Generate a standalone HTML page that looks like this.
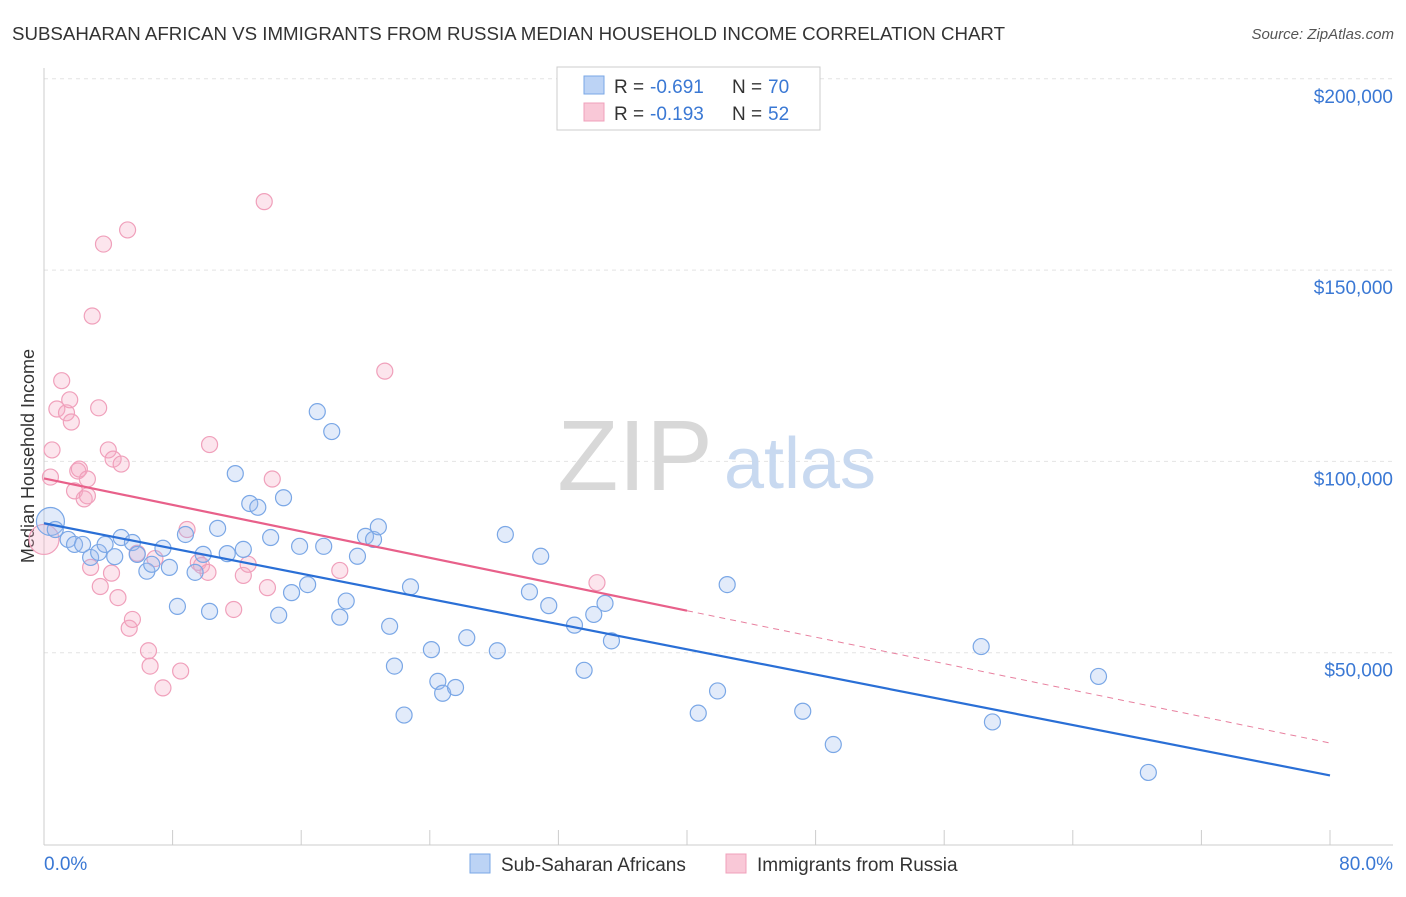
<!DOCTYPE html>
<html><head><meta charset="utf-8"><style>
body{margin:0;background:#fff;font-family:"Liberation Sans",sans-serif;}
svg text{font-family:"Liberation Sans",sans-serif;}
</style></head><body>
<svg id="chart" width="1406" height="892" xmlns="http://www.w3.org/2000/svg">
<text x="12" y="40" font-size="18.7" fill="#333">SUBSAHARAN AFRICAN VS IMMIGRANTS FROM RUSSIA MEDIAN HOUSEHOLD INCOME CORRELATION CHART</text>
<text x="1394" y="39" font-size="15" fill="#555" text-anchor="end" font-style="italic">Source: ZipAtlas.com</text>
<g id="grid"></g>
<g>
<text x="635" y="490" font-size="100" fill="#d8d8d8" text-anchor="middle" font-family="Liberation Serif, serif">ZIP</text>
<text x="800" y="488" font-size="72" fill="#c8d9f0" text-anchor="middle">atlas</text>
</g>
<text transform="translate(34,456) rotate(-90)" font-size="18" fill="#333" text-anchor="middle">Median Household Income</text>
<g id="marks"></g>
<g>
<rect x="557" y="67" width="263" height="63" fill="#fff" stroke="#ccc"/>
<rect x="584" y="76" width="20" height="18" fill="#bcd3f5" stroke="#7aa7e6"/>
<rect x="584" y="103" width="20" height="18" fill="#f9c8d7" stroke="#f0a0bb"/>
<text x="614" y="93" font-size="19" fill="#333">R =</text>
<text x="650" y="93" font-size="19" fill="#3a78d4">-0.691</text>
<text x="732" y="93" font-size="19" fill="#333">N =</text>
<text x="768" y="93" font-size="19" fill="#3a78d4">70</text>
<text x="614" y="120" font-size="19" fill="#333">R =</text>
<text x="650" y="120" font-size="19" fill="#3a78d4">-0.193</text>
<text x="732" y="120" font-size="19" fill="#333">N =</text>
<text x="768" y="120" font-size="19" fill="#3a78d4">52</text>
</g>
<g>
<rect x="470" y="854" width="20" height="19" fill="#bcd3f5" stroke="#7aa7e6"/>
<text x="501" y="871" font-size="19" fill="#333">Sub-Saharan Africans</text>
<rect x="726" y="854" width="20" height="19" fill="#f9c8d7" stroke="#f0a0bb"/>
<text x="757" y="871" font-size="19" fill="#333">Immigrants from Russia</text>
</g>
</svg>
<script>
const yTicks=[50000,100000,150000,200000];
const yTickLabels=["$50,000","$100,000","$150,000","$200,000"];
const blueX=[0.4,0.7,1.5,1.9,2.4,2.9,3.4,3.8,4.4,4.8,5.5,5.8,6.4,6.7,7.4,7.8,8.3,8.8,9.4,9.9,10.3,10.8,11.4,11.9,12.4,12.8,13.3,14.1,14.6,14.9,15.4,15.9,16.4,17.0,17.4,17.9,18.4,18.8,19.5,20.0,20.5,20.8,21.5,21.8,22.4,22.8,24.1,24.5,24.8,25.6,26.3,28.2,28.7,30.2,30.9,31.4,33.0,33.6,34.2,34.9,35.3,40.7,41.9,42.5,47.2,49.1,58.3,59.0,65.6,68.7];
const blueY=[84300,82200,79600,78300,78300,74900,76200,78300,75100,80100,78800,75700,71300,73100,77300,72300,62100,80900,71000,75700,60800,82500,75900,96800,77000,89000,88000,80100,59800,90500,65700,77800,67800,113000,77800,107800,59300,63500,75200,80400,79600,82900,56900,46500,33700,67200,50800,42500,39400,40900,53900,50500,80900,65900,75200,62300,57200,45400,60000,62900,53100,34200,40000,67800,34700,26000,51600,31900,43800,18700];
const pinkX=[0.0,0.4,0.5,0.8,1.1,1.4,1.6,1.7,1.9,2.1,2.2,2.5,2.7,2.7,2.9,3.0,3.4,3.5,3.7,4.0,4.2,4.3,4.6,4.8,5.2,5.3,5.5,5.8,6.5,6.6,6.9,7.4,8.5,8.9,9.6,9.8,10.2,10.3,11.8,12.4,12.7,13.7,13.9,14.2,18.4,21.2,34.4];
const pinkY=[79600,95900,103000,113700,121100,112700,116100,110300,92300,97500,98000,90200,95400,91000,72300,138000,114000,67300,156800,103000,70800,100600,64400,99300,160500,56400,58700,76000,50500,46500,74600,40800,45200,82200,73600,72800,71000,104400,61300,70200,73100,167900,67000,95400,71500,123600,68300];
const X=v=>44+v/80*1286;
const Y=v=>844-v/50000*191.3;
const NS="http://www.w3.org/2000/svg";
function mk(t,a,p){const e=document.createElementNS(NS,t);for(const k in a)e.setAttribute(k,a[k]);p.appendChild(e);return e;}
const g=document.getElementById('grid');
yTicks.forEach((t,i)=>{
 const l=mk('line',{x1:44,x2:1393,y1:Y(t),y2:Y(t),stroke:'#e4e4e4','stroke-dasharray':'4,4'},g);
 
 
 const tx=mk('text',{x:1393,y:Y(t)+24,'font-size':19,fill:'#3a78d4','text-anchor':'end'},g);
 tx.textContent=yTickLabels[i];
 
 
});
const ax=mk('line',{x1:44,x2:44,y1:68,y2:845,stroke:'#ccc'},g);


const bx=mk('line',{x1:44,x2:1393,y1:845,y2:845,stroke:'#ccc'},g);


for(let i=0;i<=10;i++){mk('line',{x1:X(i*8),x2:X(i*8),y1:830,y2:845,stroke:'#ccc'},g);}
const xl=mk('text',{x:44,y:870,'font-size':19,fill:'#3a78d4'},g);xl.textContent='0.0%';


const xr=mk('text',{x:1393,y:870,'font-size':19,fill:'#3a78d4','text-anchor':'end'},g);xr.textContent='80.0%';


const m=document.getElementById('marks');
pinkX.forEach((v,i)=>{const c=mk('circle',{cx:X(v),cy:Y(pinkY[i]),r:i==0?15:8,fill:'rgba(245,170,195,0.3)',stroke:'#f0a0bb','stroke-width':1.2},m);

});
blueX.forEach((v,i)=>{const c=mk('circle',{cx:X(v),cy:Y(blueY[i]),r:i==0?14:8,fill:'rgba(160,190,240,0.3)',stroke:'#7aa7e6','stroke-width':1.2},m);

});
function fit(xs,ys){const n=xs.length;let sx=0,sy=0,sxx=0,sxy=0;for(let i=0;i<n;i++){sx+=xs[i];sy+=ys[i];sxx+=xs[i]*xs[i];sxy+=xs[i]*ys[i];}const b=(n*sxy-sx*sy)/(n*sxx-sx*sx);return [b,(sy-b*sx)/n];}
const [bb,ba]=fit(blueX,blueY);
const bl=mk('line',{x1:X(0),y1:Y(ba),x2:X(80),y2:Y(ba+bb*80),stroke:'#2a6fd6','stroke-width':2.2},m);


const [pb,pa]=fit(pinkX,pinkY);
const pl=mk('line',{x1:X(0),y1:Y(pa),x2:X(40),y2:Y(pa+pb*40),stroke:'#e8608a','stroke-width':2.2},m);


const pd=mk('line',{x1:X(40),y1:Y(pa+pb*40),x2:X(80),y2:Y(pa+pb*80),stroke:'#e8809f','stroke-width':1,'stroke-dasharray':'6,5'},m);


</script>
</body></html>
